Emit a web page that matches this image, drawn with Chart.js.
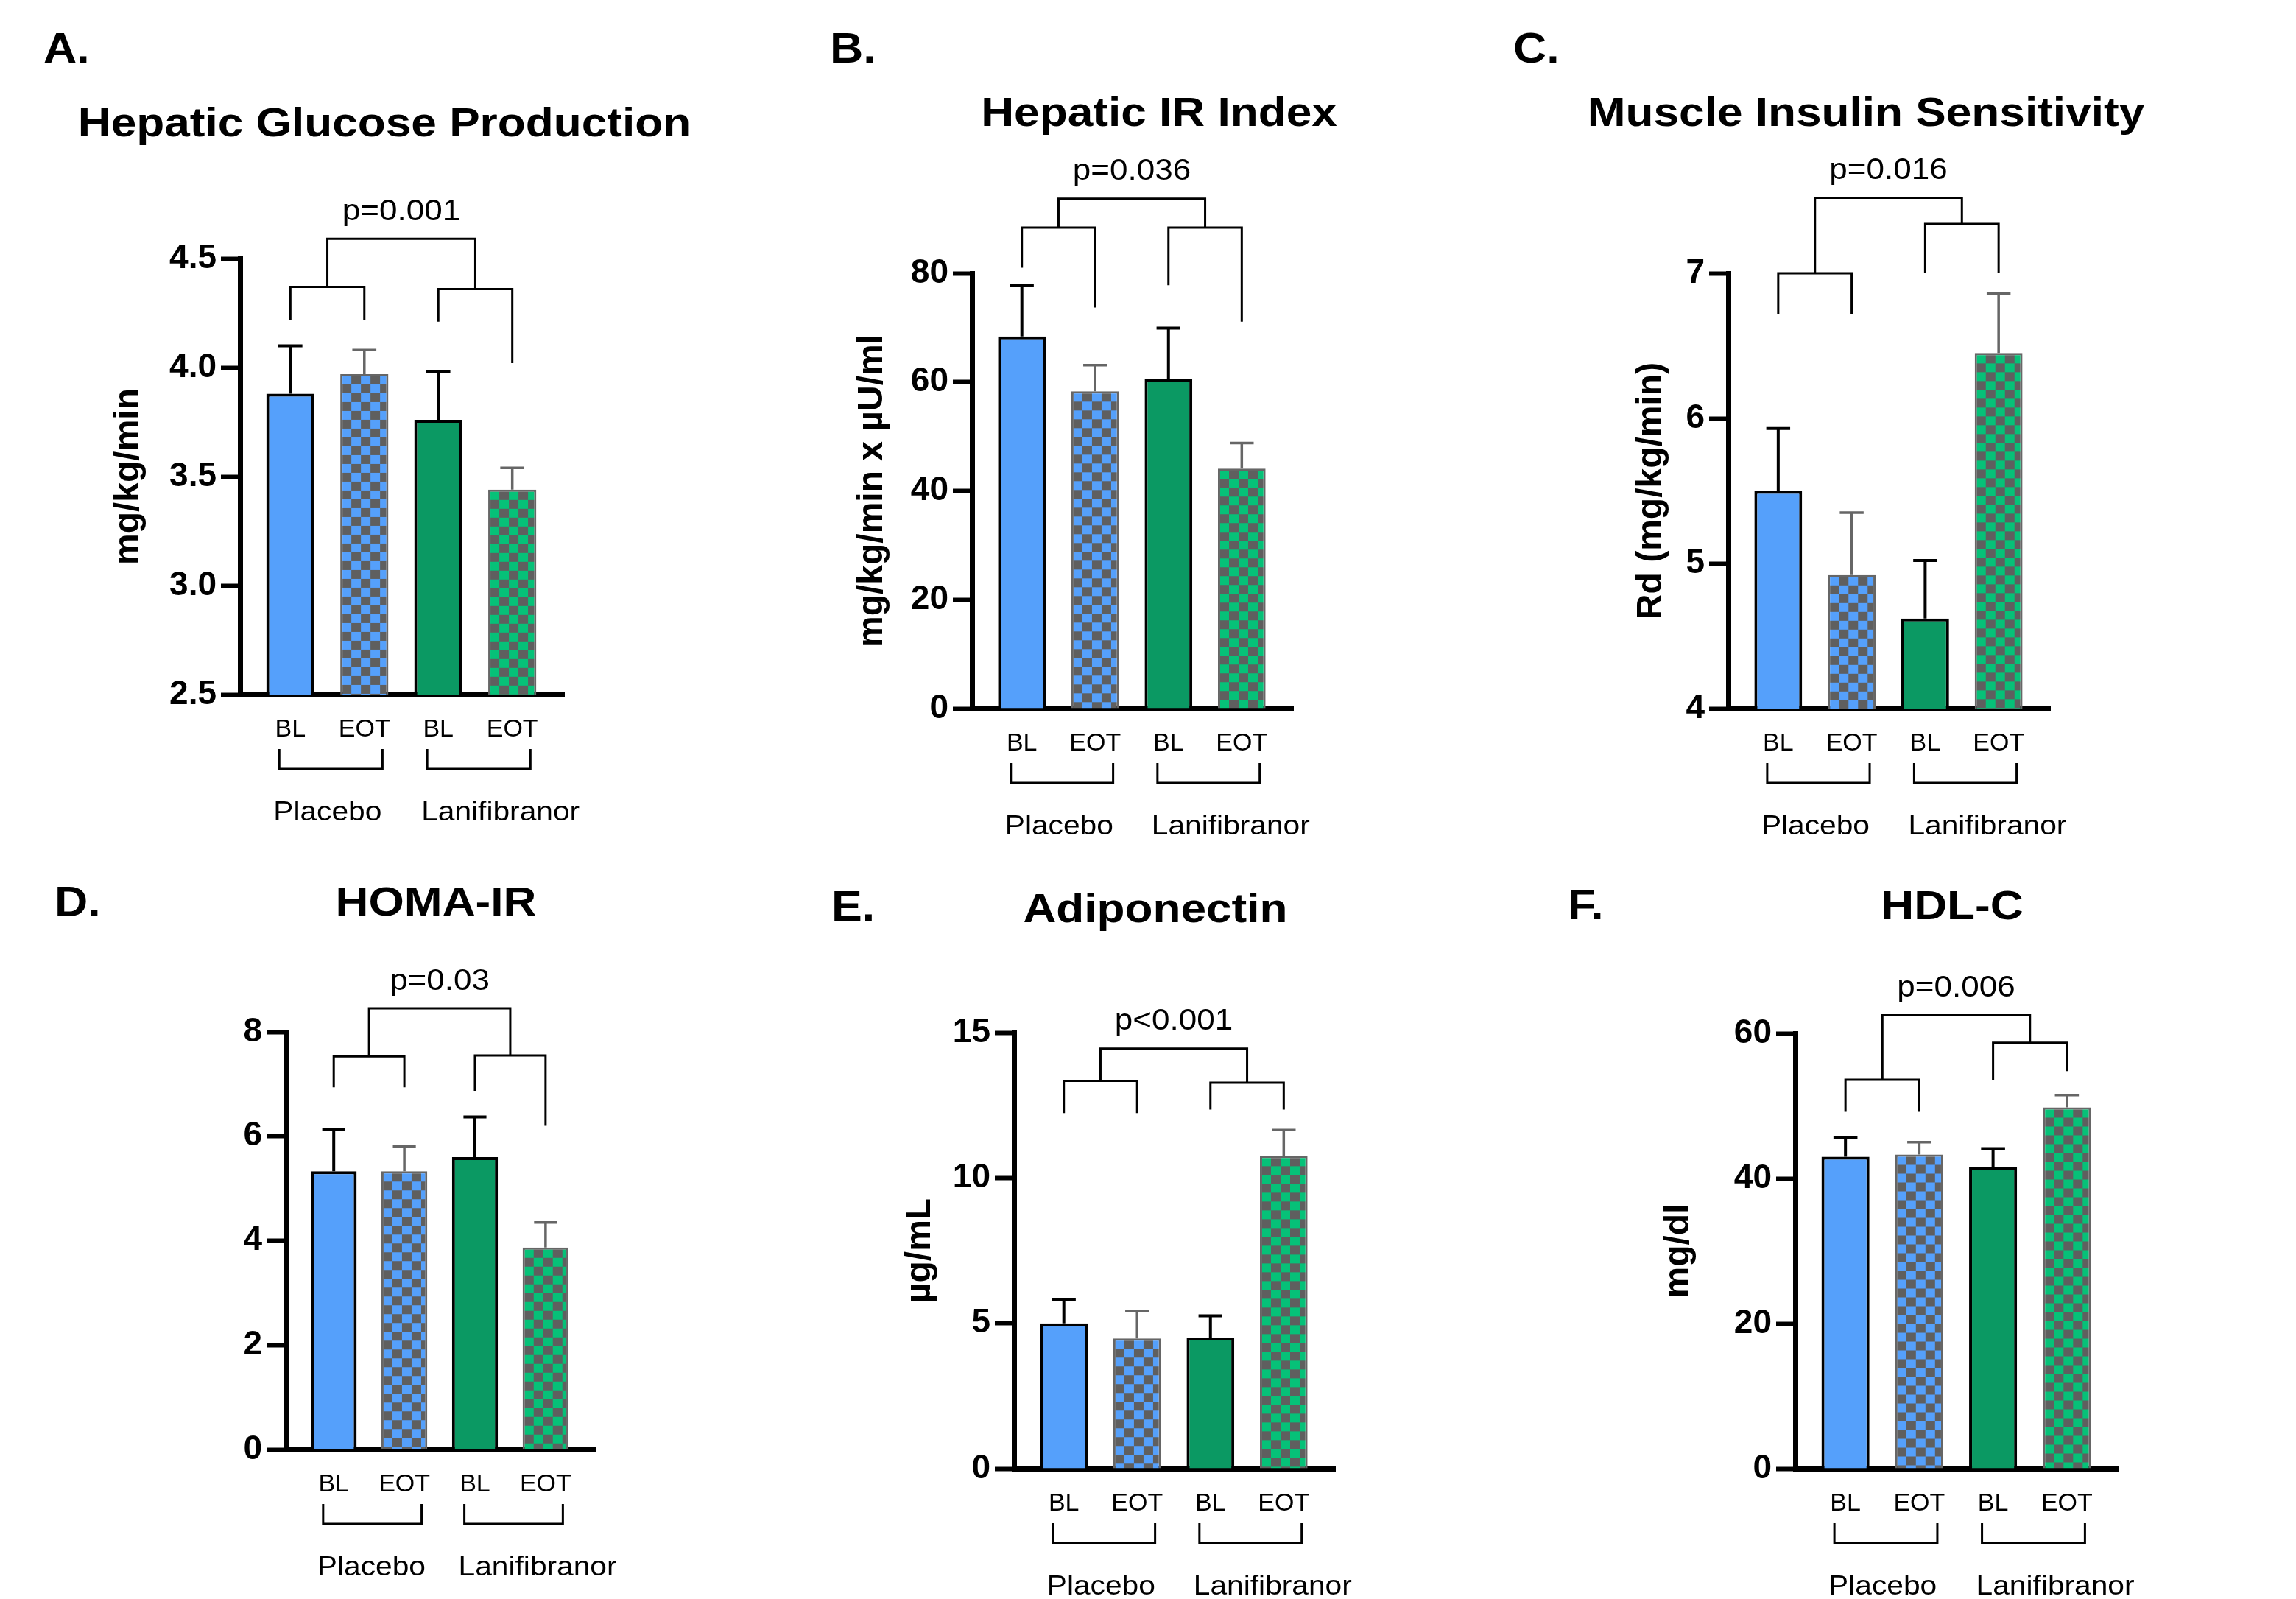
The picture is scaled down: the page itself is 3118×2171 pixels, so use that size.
<!DOCTYPE html>
<html>
<head>
<meta charset="utf-8">
<script src="https://cdn.jsdelivr.net/npm/chart.js@4.4.1/dist/chart.umd.min.js"></script>
<style>
  html, body { margin: 0; padding: 0; background: #fff; }
  #fig { position: relative; width: 3118px; height: 2171px; overflow: hidden; background: #fff; }
  #fig canvas { position: absolute; }
</style>
</head>
<body>
<div id="fig"></div>
<script>
// ---- data ----
const categories = ['BL', 'EOT', 'BL', 'EOT'];
const groups = ['Placebo', 'Lanifibranor'];
const letters = ['A.', 'B.', 'C.', 'D.', 'E.', 'F.'];
const titles = ['Hepatic Glucose Production', 'Hepatic IR Index', 'Muscle Insulin Sensitivity', 'HOMA-IR', 'Adiponectin', 'HDL-C'];
const yTitles = ['mg/kg/min', 'mg/kg/min x µU/ml', 'Rd (mg/kg/min)', '', 'µg/mL', 'mg/dl'];
const pValues = ['p=0.001', 'p=0.036', 'p=0.016', 'p=0.03', 'p<0.001', 'p=0.006'];

const hgpMean = [3.88, 3.97, 3.76, 3.44];
const hgpSem = [0.22, 0.11, 0.22, 0.10];
const hirMean = [68.4, 58.3, 60.5, 44.1];
const hirSem = [9.4, 4.8, 9.4, 4.7];
const rdMean = [5.50, 4.92, 4.62, 6.45];
const rdSem = [0.43, 0.43, 0.40, 0.41];
const homaMean = [5.33, 5.33, 5.60, 3.87];
const homaSem = [0.80, 0.48, 0.77, 0.48];
const adipoMean = [5.0, 4.48, 4.51, 10.76];
const adipoSem = [0.80, 0.95, 0.75, 0.89];
const hdlMean = [43.0, 43.3, 41.6, 49.8];
const hdlSem = [2.6, 1.7, 2.5, 1.7];

const means = [hgpMean, hirMean, rdMean, homaMean, adipoMean, hdlMean];
const sems = [hgpSem, hirSem, rdSem, homaSem, adipoSem, hdlSem];

const yMins = [2.5, 0, 4, 0, 0, 0];
const yMaxs = [4.5, 80, 7, 8, 15, 60];
const ySteps = [0.5, 20, 1, 2, 5, 20];
const yDecimals = [1, 0, 0, 0, 0, 0];

// ---- layout (page pixels) ----
const FONT = '"Liberation Sans", Arial, Helvetica, sans-serif';
const Y_AXIS_W = 120;
const X_AXIS_H = 60;
const STRETCH = 1.1;

const frames = [
  { x0: 0,    y0: 0,    w: 1030, h: 1150, axisX: 326,  top: 351,  bottom: 943,  right: 766,  letterX: 59,   letterY: 64,   titleX: 522,  titleY: 165,  yTitleX: 175 },
  { x0: 1030, y0: 0,    w: 1010, h: 1150, axisX: 1320, top: 371,  bottom: 962,  right: 1756, letterX: 1127, letterY: 64,   titleX: 1574, titleY: 151,  yTitleX: 1185 },
  { x0: 2040, y0: 0,    w: 1078, h: 1150, axisX: 2347, top: 371,  bottom: 962,  right: 2784, letterX: 2055, letterY: 64,   titleX: 2534, titleY: 151,  yTitleX: 2243 },
  { x0: 0,    y0: 1150, w: 1030, h: 1021, axisX: 388,  top: 1401, bottom: 1968, right: 808,  letterX: 74,   letterY: 1223, titleX: 592,  titleY: 1223, yTitleX: 0 },
  { x0: 1030, y0: 1150, w: 1010, h: 1021, axisX: 1377, top: 1402, bottom: 1994, right: 1813, letterX: 1129, letterY: 1229, titleX: 1569, titleY: 1232, yTitleX: 1250 },
  { x0: 2040, y0: 1150, w: 1078, h: 1021, axisX: 2438, top: 1403, bottom: 1994, right: 2877, letterX: 2129, letterY: 1227, titleX: 2651, titleY: 1228, yTitleX: 2280 }
];

// comparison brackets, in axis units: top bar, [level, left leg end, right leg end]
const brackets = [
  { top: 4.59, left: [4.37, 4.22, 4.22], right: [4.36, 4.21, 4.02] },
  { top: 93.7, left: [88.4, 81.0, 73.7], right: [88.4, 77.8, 71.1] },
  { top: 7.52, left: [7.0, 6.72, 6.72], right: [7.34, 7.0, 7.0] },
  { top: 8.45, left: [7.53, 6.94, 6.94], right: [7.55, 6.87, 6.20] },
  { top: 14.45, left: [13.34, 12.23, 12.23], right: [13.28, 12.35, 12.35] },
  { top: 62.5, left: [53.6, 49.2, 49.2], right: [58.7, 53.6, 54.8] }
];

const BLUE = '#55A0FB';
const GREEN = '#0B9963';
const GREEN_LIGHT = '#06C178';
const GRAY = '#5F5F5F';

function checker(color) {
  let c = document.createElement('canvas');
  c.width = 26; c.height = 24;
  let g = c.getContext('2d');
  g.fillStyle = color; g.fillRect(0, 0, 26, 24);
  g.fillStyle = GRAY;
  g.fillRect(13, 0, 13, 12);
  g.fillRect(0, 12, 13, 12);
  return g.createPattern(c, 'repeat');
}

function drawText(ctx, txt, x, y, size, weight, align, sx) {
  ctx.save();
  ctx.font = weight + ' ' + size + 'px ' + FONT;
  ctx.fillStyle = '#000';
  ctx.textAlign = align;
  ctx.textBaseline = 'alphabetic';
  ctx.translate(x, y + size * 0.36);
  ctx.scale(sx, 1);
  ctx.fillText(txt, 0, 0);
  ctx.restore();
}

function decoPlugin(i) {
  const f = frames[i];
  const br = brackets[i];
  return {
    id: 'deco' + i,
    beforeDatasetsDraw(chart) {
      // anchor the checker patterns to each bar's top-left
      let meta = chart.getDatasetMeta(0);
      let bg = chart.data.datasets[0].backgroundColor;
      [1, 3].forEach(k => {
        let bar = meta.data[k];
        bg[k].setTransform(new DOMMatrix([1, 0, 0, 1, bar.x - bar.width / 2 + 2, bar.y + 2]));
      });
    },
    afterDatasetsDraw(chart) {
      let ctx = chart.ctx;
      let y = chart.scales.y;
      let meta = chart.getDatasetMeta(0);
      ctx.save();
      meta.data.forEach((bar, k) => {
        let top = y.getPixelForValue(means[i][k] + sems[i][k]);
        ctx.strokeStyle = k % 2 === 0 ? '#000' : '#666';
        ctx.lineWidth = k % 2 === 0 ? 4 : 3.5;
        let cap = bar.width / 2;
        ctx.beginPath();
        ctx.moveTo(bar.x, bar.y);
        ctx.lineTo(bar.x, top);
        ctx.moveTo(bar.x - cap / 2, top);
        ctx.lineTo(bar.x + cap / 2, top);
        ctx.stroke();
      });
      ctx.restore();
    },
    afterDraw(chart) {
      let ctx = chart.ctx;
      let xs = chart.scales.x, ys = chart.scales.y;
      let X = v => xs.getPixelForValue(v);
      let Y = v => ys.getPixelForValue(v);
      let ox = f.x0, oy = f.y0;

      ctx.save();
      ctx.strokeStyle = '#000';
      ctx.lineWidth = 3;
      ctx.lineCap = 'butt';
      ctx.lineJoin = 'miter';

      // significance brackets
      ctx.beginPath();
      ctx.moveTo(X(0), Y(br.left[1])); ctx.lineTo(X(0), Y(br.left[0]));
      ctx.lineTo(X(1), Y(br.left[0])); ctx.lineTo(X(1), Y(br.left[2]));
      ctx.moveTo(X(2), Y(br.right[1])); ctx.lineTo(X(2), Y(br.right[0]));
      ctx.lineTo(X(3), Y(br.right[0])); ctx.lineTo(X(3), Y(br.right[2]));
      ctx.moveTo(X(0.5), Y(br.left[0])); ctx.lineTo(X(0.5), Y(br.top));
      ctx.lineTo(X(2.5), Y(br.top)); ctx.lineTo(X(2.5), Y(br.right[0]));
      ctx.stroke();

      drawText(ctx, pValues[i], X(1.5), Y(br.top) - 40, 40, 'normal', 'center', STRETCH);

      // group brackets under the axis
      let b = chart.chartArea.bottom;
      ctx.beginPath();
      [[0, 1], [2, 3]].forEach(([a, c]) => {
        let l = X(a - 0.15), r = X(c + 0.245);
        ctx.moveTo(l, b + 74); ctx.lineTo(l, b + 101);
        ctx.lineTo(r, b + 101); ctx.lineTo(r, b + 74);
      });
      ctx.stroke();
      groups.forEach((g, j) => {
        drawText(ctx, g, X(j * 2 - 0.15) - 8, b + 158, 37, 'normal', 'left', STRETCH);
      });

      // panel letter and title
      drawText(ctx, letters[i], f.letterX - ox, f.letterY - oy, 57, 'bold', 'left', STRETCH);
      drawText(ctx, titles[i], f.titleX - ox, f.titleY - oy, 56, 'bold', 'center', 1.11);

      // y title
      if (yTitles[i]) {
        ctx.save();
        ctx.translate(f.yTitleX - ox, (chart.chartArea.top + chart.chartArea.bottom) / 2);
        ctx.rotate(-Math.PI / 2);
        ctx.font = 'bold 48px ' + FONT;
        ctx.fillStyle = '#000';
        ctx.textAlign = 'center';
        ctx.textBaseline = 'middle';
        ctx.fillText(yTitles[i], 0, 0);
        ctx.restore();
      }
      ctx.restore();
    }
  };
}

const fig = document.getElementById('fig');

frames.forEach((f, i) => {
  let canvas = document.createElement('canvas');
  canvas.width = f.w;
  canvas.height = f.h;
  canvas.style.left = f.x0 + 'px';
  canvas.style.top = f.y0 + 'px';
  canvas.style.width = f.w + 'px';
  canvas.style.height = f.h + 'px';
  fig.appendChild(canvas);

  let config = {
    type: 'bar',
    data: {
      datasets: [{
        data: means[i].map((v, k) => ({ x: k, y: v })),
        backgroundColor: [BLUE, checker(BLUE), GREEN, checker(GREEN_LIGHT)],
        borderColor: ['#000', '#666', '#000', '#666'],
        borderWidth: [4, 3, 4, 3],
        categoryPercentage: 1,
        barPercentage: 0.65
      }]
    },
    options: {
      responsive: false,
      animation: false,
      devicePixelRatio: 1,
      layout: {
        autoPadding: false,
        padding: {
          left: f.axisX - f.x0 - Y_AXIS_W,
          top: f.top - f.y0,
          right: f.x0 + f.w - f.right,
          bottom: f.y0 + f.h - f.bottom - X_AXIS_H
        }
      },
      plugins: {
        legend: { display: false },
        tooltip: { enabled: false },
        title: { display: false }
      },
      scales: {
        x: {
          type: 'linear',
          offset: false,
          min: -0.68,
          max: 3.7,
          z: 1,
          afterBuildTicks: (s) => { s.ticks = categories.map((c, k) => ({ value: k })); },
          afterFit: (s) => { s.height = X_AXIS_H; },
          grid: { display: false, drawTicks: false, offset: false },
          border: { display: true, color: '#000', width: 7 },
          ticks: {
            callback: (v) => categories[v],
            color: '#000',
            font: { family: FONT, size: 34 },
            padding: 27,
            maxRotation: 0,
            autoSkip: false
          }
        },
        y: {
          min: yMins[i],
          max: yMaxs[i],
          afterFit: (s) => { s.width = Y_AXIS_W; },
          grid: { display: true, drawOnChartArea: false, drawTicks: true, tickLength: 26, tickWidth: 6, tickColor: '#000' },
          border: { display: true, color: '#000', width: 7 },
          ticks: {
            stepSize: ySteps[i],
            callback: (v) => Number(v).toFixed(yDecimals[i]),
            color: '#000',
            font: { family: FONT, size: 46, weight: 'bold' },
            padding: 6
          }
        }
      }
    },
    plugins: [decoPlugin(i)]
  };

  new Chart(canvas, config);
});
</script>
</body>
</html>
